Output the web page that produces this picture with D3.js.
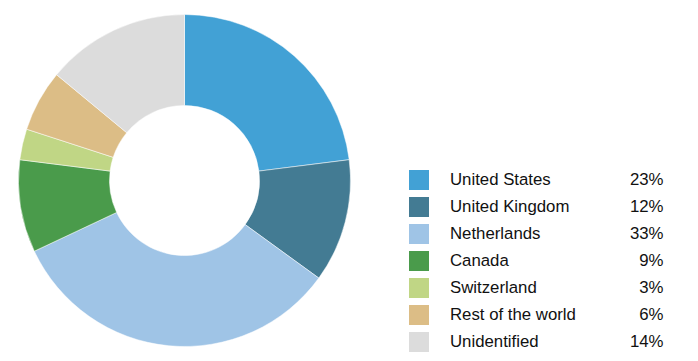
<!DOCTYPE html>
<meta charset="utf-8">
<style>
  body { margin: 0; background: #fff; }
  svg { display: block; }
  text { font-family: "Liberation Sans", Arial, sans-serif; font-size: 16.8px; fill: #111; }
</style>
<body>
  <svg width="698" height="361"></svg>
</body>
<script src="https://d3js.org/d3.v7.min.js"></script>
<script>
  var categories = ["United States", "United Kingdom", "Netherlands", "Canada", "Switzerland", "Rest of the world", "Unidentified"];
  var shares = [23, 12, 33, 9, 3, 6, 14];
  var colors = ["#42a1d5", "#437b93", "#9fc4e6", "#4a9b4b", "#c0d685", "#dcbd86", "#dcdcdc"];

  var svg = d3.select("svg"),
    cx = 184.5, cy = 180.5,
    outerR = 166, innerR = 75;

  var pie = d3.pie().sort(null).value(function(d) { return d; });
  var arc = d3.arc().innerRadius(innerR).outerRadius(outerR);

  svg.append("g")
    .attr("transform", "translate(" + cx + "," + cy + ")")
    .selectAll("path")
    .data(pie(shares))
    .enter().append("path")
    .attr("d", arc)
    .attr("fill", function(d, i) { return colors[i]; })
    .attr("stroke", "#fff")
    .attr("stroke-width", 0.5);

  // legend
  var y = d3.scaleBand().domain(categories).range([167, 356]).paddingInner(0);

  var row = svg.append("g")
    .selectAll("g")
    .data(categories)
    .enter().append("g")
    .attr("transform", function(d) { return "translate(0," + y(d) + ")"; });

  row.append("rect")
    .attr("x", 409).attr("y", 3)
    .attr("width", 20).attr("height", 20)
    .attr("fill", function(d, i) { return colors[i]; });

  row.append("text")
    .attr("x", 450).attr("y", 12.5)
    .attr("dy", "0.35em")
    .text(function(d) { return d; });

  row.append("text")
    .attr("x", 663.5).attr("y", 12.5)
    .attr("dy", "0.35em")
    .attr("text-anchor", "end")
    .text(function(d, i) { return shares[i] + "%"; });
</script>
</html>
